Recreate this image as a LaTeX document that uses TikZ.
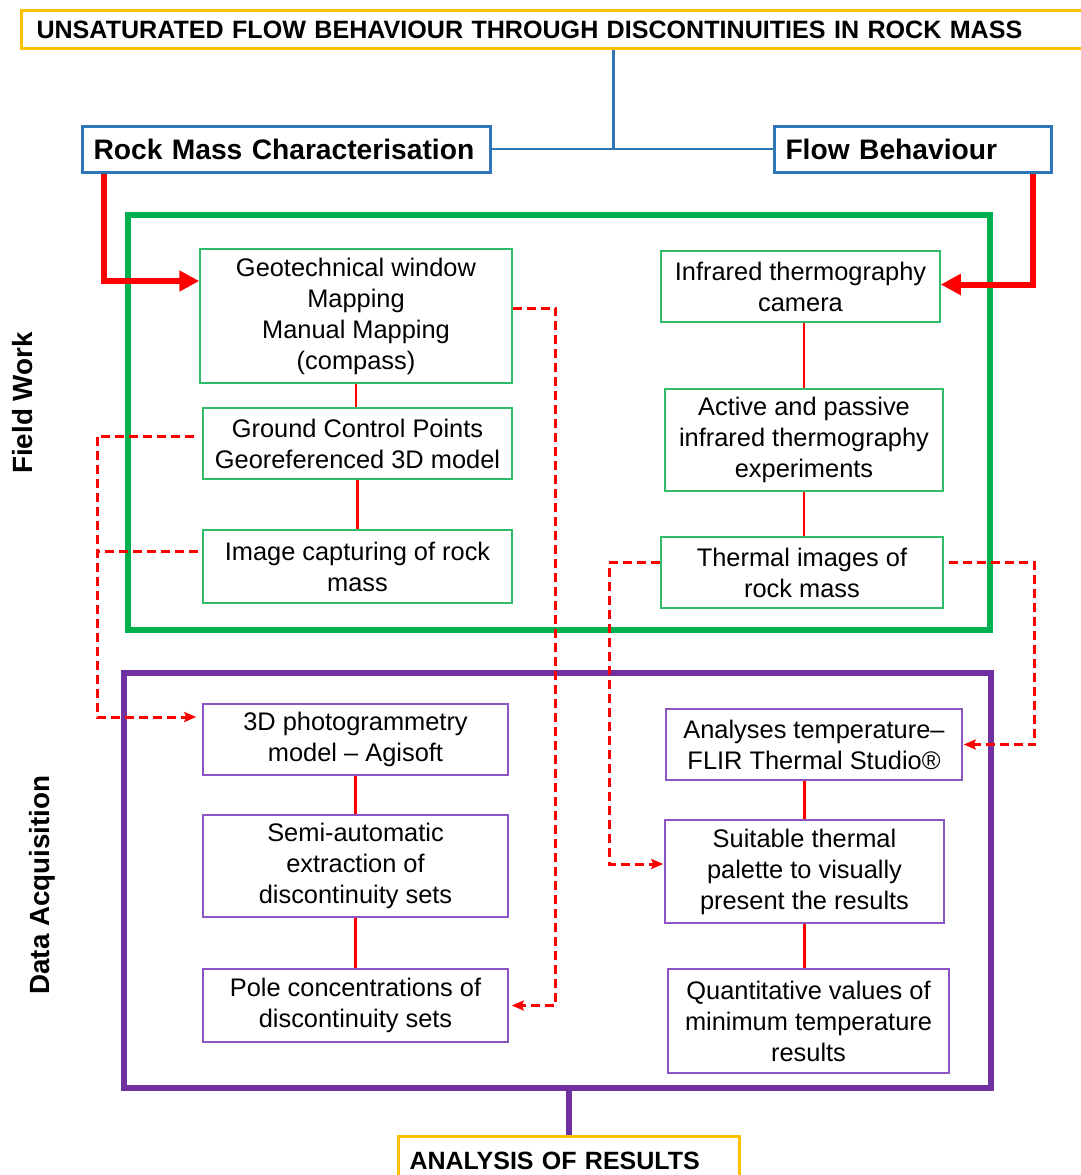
\documentclass[tikz,border=0pt]{standalone}
\usepackage{fontspec}
\setmainfont{Liberation Sans}
\usetikzlibrary{arrows.meta,calc}

\definecolor{framegreen}{RGB}{0,176,80}
\definecolor{framepurple}{RGB}{112,48,160}
\definecolor{boxgreen}{RGB}{50,188,105}
\definecolor{boxpurple}{RGB}{140,85,195}
\definecolor{hdrblue}{RGB}{46,117,182}
\definecolor{hdryellow}{RGB}{255,192,0}
\definecolor{linkred}{RGB}{255,0,0}

\newcommand\boxfont{\fontsize{25.4}{31}\selectfont}
\newcommand\titlefont{\fontsize{25.1}{28}\selectfont\bfseries}
\newcommand\hdrfont{\fontsize{28.2}{32}\selectfont\bfseries}
\newcommand\anafont{\fontsize{25}{28}\selectfont\bfseries}
\newcommand\sidefont{\fontsize{27.8}{32}\selectfont\bfseries}

\begin{document}
\begin{tikzpicture}[x=1pt,y=-1pt,
  gbox/.style={draw=boxgreen, line width=1.5pt, fill=white, inner sep=2pt,
    align=center, font=\boxfont},
  pbox/.style={draw=boxpurple, line width=1.5pt, fill=white, inner sep=2pt,
    align=center, font=\boxfont},
  frame/.style={line width=6pt, inner sep=0pt},
  hdr/.style={draw=hdrblue, line width=3pt, fill=white, inner xsep=11pt,
    inner ysep=0pt, align=left, font=\hdrfont, text depth=0pt},
  ybox/.style={draw=hdryellow, line width=3pt, fill=white, inner ysep=0pt,
    align=left, text depth=0pt},
  blueline/.style={draw=hdrblue, line width=2.5pt},
  tie/.style={draw=linkred, line width=2.5pt},
  feed/.style={draw=linkred, line width=6pt, -{Triangle[length=20pt,width=20pt]}},
  dashlink/.style={draw=linkred, line width=3pt, dash pattern=on 9pt off 5pt},
  dasharrow/.style={dashlink, -{Stealth[length=12pt,width=10pt,inset=2pt]}},
]
\useasboundingbox (0,0) rectangle (1080,1175);

% group frames
\node[frame, draw=framegreen, minimum width=862pt, minimum height=415pt]
  (fw) at (559,422.5) {};
\node[frame, draw=framepurple, minimum width=866.5pt, minimum height=415pt]
  (da) at (557.25,880.5) {};

% side labels
\node[rotate=90, font=\sidefont, inner sep=0pt] (fwlabel) at (23,403) {Field Work};
\node[rotate=90, font=\sidefont, inner sep=0pt] (dalabel) at (42,885) {Data Acquisition};

% headers
\node[ybox, anchor=west, text width=1032pt, inner xsep=15pt, minimum height=38pt,
  font=\titlefont] (title) at (20,29.5)
  {UNSATURATED FLOW BEHAVIOUR THROUGH DISCONTINUITIES IN ROCK MASS};
\node[hdr, anchor=west, text width=386pt, minimum height=46pt] (rmc) at (81,149)
  {Rock Mass Characterisation};
\node[hdr, anchor=west, text width=255pt, minimum height=46pt] (fb) at (773,149)
  {Flow Behaviour};
\node[ybox, anchor=north west, text width=319pt, inner xsep=11pt, minimum height=48pt,
  font=\anafont] (ana) at (397,1135) {ANALYSIS OF RESULTS};

% field work boxes
\node[gbox, minimum width=312pt, minimum height=134pt] (g1) at (356,316)
  {Geotechnical window\\Mapping\\Manual Mapping\\(compass)};
\node[gbox, minimum width=309pt, minimum height=71pt] (g2) at (357.5,443.5)
  {Ground Control Points\\Georeferenced 3D model};
\node[gbox, minimum width=309pt, minimum height=73pt] (g3) at (357.5,566.5)
  {Image capturing of rock\\mass};
\node[gbox, minimum width=279pt, minimum height=71pt] (r1) at (800.5,286.5)
  {Infrared thermography\\camera};
\node[gbox, minimum width=278pt, minimum height=102pt] (r2) at (804,440)
  {Active and passive\\infrared thermography\\experiments};
\node[gbox, minimum width=282pt, minimum height=71pt] (r3) at (802,572.5)
  {Thermal images of\\rock mass};

% data acquisition boxes
\node[pbox, minimum width=305pt, minimum height=71pt] (p1) at (355.5,739.5)
  {3D photogrammetry\\model -- Agisoft};
\node[pbox, minimum width=305pt, minimum height=102pt] (p2) at (355.5,866)
  {Semi-automatic\\extraction of\\discontinuity sets};
\node[pbox, minimum width=305pt, minimum height=73pt] (p3) at (355.5,1005.5)
  {Pole concentrations of\\discontinuity sets};
\node[pbox, minimum width=296pt, minimum height=71pt] (q1) at (814,744.5)
  {Analyses temperature--\\FLIR Thermal Studio®};
\node[pbox, minimum width=279pt, minimum height=103pt] (q2) at (804.5,871.5)
  {Suitable thermal\\palette to visually\\present the results};
\node[pbox, minimum width=281pt, minimum height=104pt] (q3) at (808.5,1021)
  {Quantitative values of\\minimum temperature\\results};

% header links
\draw[blueline] ([xshift=61pt]title.south) -- ([xshift=61pt]title.south |- rmc.east);
\draw[blueline] (rmc.east) -- (fb.west);
\draw[draw=framepurple, line width=6pt] (ana.north |- da.south) -- (ana.north);

% header feeds into the field work
\draw[feed] ([xshift=22.7pt]rmc.south west) |- ([yshift=35pt]g1.west);
\draw[feed] ([xshift=-20pt]fb.south east) |- ([yshift=2pt]r1.east);

% solid links inside the columns
\draw[tie] (g1.south) -- (g1.south |- g2.north);
\draw[tie] (g2.south) -- (g2.south |- g3.north);
\draw[tie] (r2.north |- r1.south) -- (r2.north);
\draw[tie] (r2.south) -- (r2.south |- r3.north);
\draw[tie] (p1.south) -- (p1.south |- p2.north);
\draw[tie] (p2.south) -- (p2.south |- p3.north);
\draw[tie] (q2.north |- q1.south) -- (q2.north);
\draw[tie] (q2.south) -- (q2.south |- q3.north);

% dashed links from field work to data acquisition
\draw[dasharrow] ([yshift=8pt]g1.east) -- ++(43,0) |- ([xshift=3pt]p3.east);
\draw[dasharrow] ([xshift=-8pt,yshift=7.5pt]g2.west) -- ++(-97,0) coordinate (lbus)
  |- ([xshift=-6pt,yshift=22.5pt]p1.west);
\draw[dashlink] ([xshift=-4pt,yshift=15pt]g3.west) coordinate (g3d) -- (g3d -| lbus);
\draw[dasharrow] ([yshift=10pt]r3.west) -- ++(-51,0) |- ([xshift=-1pt,yshift=7.5pt]q2.west);
\draw[dasharrow] ([xshift=5pt,yshift=10pt]r3.east) -- ++(86,0) |- ([xshift=1pt]q1.east);
\end{tikzpicture}
\end{document}
